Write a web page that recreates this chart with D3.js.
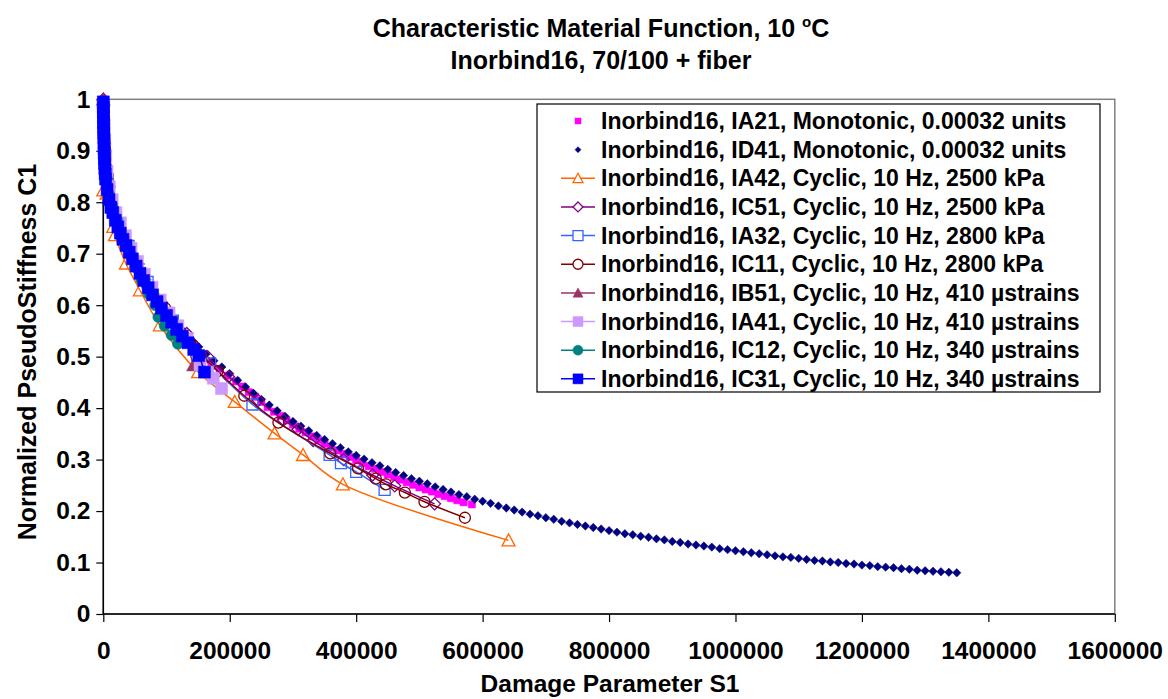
<!DOCTYPE html>
<html lang="en">
<head>
<meta charset="UTF-8">
<title>Characteristic Material Function</title>
<script src="https://d3js.org/d3.v7.min.js"></script>
<style>
  body { margin: 0; background: #fff; }
  text { font-family: Arial, "Liberation Sans", sans-serif; font-weight: bold; fill: #000; }
</style>
</head>
<body>
<svg id="chart"></svg>
<script>
// ---- data: [damage parameter S1, normalized pseudo stiffness C1] ----
const ia21 = [[0,0.98],[1500,0.935],[4000,0.88],[8000,0.83],[13000,0.80],[19000,0.775],[26000,0.75],[34000,0.728],
  [43000,0.705],[53000,0.68],[64000,0.655],[76000,0.63],[89000,0.605],[103000,0.58],[117000,0.558],[131000,0.538],
  [145000,0.52],[158000,0.503],[171000,0.489],[184000,0.476],[197000,0.463],[210000,0.452],[220000,0.442],[230000,0.431],
  [240000,0.422],[250000,0.412],[260000,0.402],[270000,0.393],[280000,0.385],[290000,0.376],[300000,0.368],[310000,0.36],
  [320000,0.353],[330000,0.345],[340000,0.338],[350000,0.331],[360000,0.324],[370000,0.318],[380000,0.311],[390000,0.305],
  [400000,0.299],[410000,0.293],[420000,0.287],[430000,0.282],[440000,0.276],[450000,0.271],[460000,0.266],[470000,0.261],
  [480000,0.256],[490000,0.251],[500000,0.246],[510000,0.242],[520000,0.238],[530000,0.233],[540000,0.229],[550000,0.225],
  [560000,0.221],[570000,0.217],[583000,0.213]];

const id41 = [[0,0.99],[700,0.96],[1500,0.94],[2500,0.92],[3500,0.9],[5000,0.875],[6500,0.855],[8500,0.835],[11000,0.815],
  [14000,0.8],[18000,0.785],[22000,0.77],[27000,0.755],[32000,0.74],[37500,0.725],[43000,0.71],[49000,0.695],[55000,0.68],
  [62000,0.665],[69000,0.65],[76000,0.635],[83000,0.62],[91000,0.605],[99000,0.59],[107000,0.578],[115000,0.566],
  [124000,0.553],[133000,0.541],[142000,0.53],[151000,0.519],[162500,0.505],[175000,0.492],[187500,0.48],[200000,0.467],
  [212500,0.454],[225000,0.441],[237500,0.429],[250000,0.417],[262500,0.406],[275000,0.395],[287500,0.384],[300000,0.374],
  [312500,0.365],[325000,0.356],[337500,0.347],[350000,0.339],[362500,0.331],[375000,0.323],[387500,0.315],[400000,0.308],
  [412500,0.301],[425000,0.294],[437500,0.288],[450000,0.281],[462500,0.275],[475000,0.269],[487500,0.263],[500000,0.258],
  [512500,0.253],[525000,0.247],[537500,0.242],[550000,0.237],[562500,0.232],[575000,0.228],[587500,0.223],[600000,0.219],
  [612500,0.215],[625000,0.21],[637500,0.206],[650000,0.202],[662500,0.198],[675000,0.194],[687500,0.191],[700000,0.187],
  [712500,0.184],[725000,0.18],[737500,0.177],[750000,0.174],[762500,0.171],[775000,0.168],[787500,0.165],[800000,0.162],
  [812500,0.159],[825000,0.156],[837500,0.154],[850000,0.151],[862500,0.149],[875000,0.146],[887500,0.144],[900000,0.141],
  [912500,0.139],[925000,0.136],[937500,0.134],[950000,0.132],[962500,0.13],[975000,0.127],[987500,0.125],[1000000,0.123],
  [1012500,0.121],[1025000,0.119],[1037500,0.117],[1050000,0.115],[1062500,0.113],[1075000,0.111],[1087500,0.11],
  [1100000,0.108],[1112500,0.106],[1125000,0.104],[1137500,0.103],[1150000,0.101],[1162500,0.1],[1175000,0.098],
  [1187500,0.097],[1200000,0.095],[1212500,0.094],[1225000,0.092],[1237500,0.091],[1250000,0.09],[1262500,0.088],
  [1275000,0.087],[1287500,0.085],[1300000,0.084],[1312500,0.083],[1325000,0.082],[1337500,0.081],[1350000,0.08]];

const ia42 = [[0,1.0],[0,0.823],[5300,0.817],[15800,0.752],[18500,0.736],[35800,0.681],[58000,0.629],[89500,0.561],
  [150000,0.47],[208000,0.412],[271000,0.351],[316000,0.309],[379000,0.252],[641000,0.143]];

const ic51 = [[0,1.0],[3000,0.9],[9000,0.83],[25000,0.76],[55000,0.68],[92000,0.605],[132000,0.545],[165000,0.5],
  [198000,0.461],[245000,0.415],[285000,0.377],[308000,0.359],[332000,0.337],[380000,0.3],[426000,0.27],[461000,0.249],
  [524000,0.214]];

const ia32 = [[0,0.985],[2500,0.91],[7000,0.845],[20000,0.77],[40000,0.715],[70000,0.645],[110000,0.57],[169000,0.487],
  [236000,0.407],[358000,0.309],[376000,0.293],[400000,0.276],[445000,0.241]];

const ic11 = [[0,0.975],[4000,0.86],[20000,0.775],[50000,0.685],[98000,0.594],[142000,0.522],[181000,0.472],[223000,0.424],
  [277000,0.372],[359000,0.312],[403000,0.283],[431000,0.263],[447000,0.252],[477000,0.236],[508000,0.218],[572000,0.187]];

const ib51 = [[0,1.0],[800,0.97],[1600,0.94],[2600,0.91],[4000,0.88],[6000,0.855],[9000,0.825],[13000,0.8],[18000,0.78],
  [25000,0.755],[33000,0.735],[42000,0.71],[52000,0.685],[63000,0.66],[75000,0.635],[88000,0.61],[102000,0.585],
  [117000,0.56],[130000,0.535],[142000,0.483]];

const ia41 = [[0,0.99],[1000,0.95],[2200,0.92],[3800,0.89],[6000,0.86],[9500,0.83],[14000,0.805],[20000,0.78],[27000,0.76],
  [35000,0.735],[44000,0.71],[54000,0.685],[65000,0.66],[77000,0.635],[90000,0.61],[104000,0.585],[118000,0.56],
  [133000,0.535],[153000,0.484],[165000,0.47],[174000,0.458],[187000,0.438]];

const ic12 = [[0,0.97],[2000,0.915],[5300,0.846],[9000,0.815],[14000,0.794],[22000,0.765],[32000,0.73],[42000,0.7],
  [50000,0.674],[60000,0.65],[72000,0.622],[82000,0.6],[87000,0.577],[97000,0.56],[108000,0.542],[118000,0.525]];

const ic31 = [[0,0.995],[100,0.985],[200,0.975],[300,0.965],[450,0.955],[600,0.945],[750,0.935],[900,0.925],[1100,0.915],
  [1300,0.905],[1500,0.895],[1800,0.885],[2100,0.875],[2500,0.865],[3000,0.855],[3600,0.845],[6000,0.825],[9000,0.805],
  [12000,0.79],[15000,0.78],[19000,0.765],[23000,0.752],[27000,0.74],[31000,0.728],[36000,0.716],[41000,0.703],
  [46000,0.69],[52000,0.676],[58000,0.662],[64000,0.648],[71000,0.634],[78000,0.62],[85000,0.607],[92000,0.594],
  [100000,0.58],[108000,0.567],[116000,0.553],[125000,0.54],[134000,0.527],[143000,0.514],[151000,0.502],[160000,0.47]];

const seriesNames = [
  "Inorbind16, IA21, Monotonic, 0.00032 units",
  "Inorbind16, ID41, Monotonic, 0.00032 units",
  "Inorbind16, IA42, Cyclic, 10 Hz, 2500 kPa",
  "Inorbind16, IC51, Cyclic, 10 Hz, 2500 kPa",
  "Inorbind16, IA32, Cyclic, 10 Hz, 2800 kPa",
  "Inorbind16, IC11, Cyclic, 10 Hz, 2800 kPa",
  "Inorbind16, IB51, Cyclic, 10 Hz, 410 \u00b5strains",
  "Inorbind16, IA41, Cyclic, 10 Hz, 410 \u00b5strains",
  "Inorbind16, IC12, Cyclic, 10 Hz, 340 \u00b5strains",
  "Inorbind16, IC31, Cyclic, 10 Hz, 340 \u00b5strains"
];
const seriesData = [ia21, id41, ia42, ic51, ia32, ic11, ib51, ia41, ic12, ic31];

const xTicks = [0, 200000, 400000, 600000, 800000, 1000000, 1200000, 1400000, 1600000];
const yTicks = [0, 0.1, 0.2, 0.3, 0.4, 0.5, 0.6, 0.7, 0.8, 0.9, 1];
const yTickLabels = ["0", "0.1", "0.2", "0.3", "0.4", "0.5", "0.6", "0.7", "0.8", "0.9", "1"];

// ---- styles ----
const styles = [
  {color: "#FF00FF", shape: "square",   r: 3.6, filled: true,  line: false},
  {color: "#000080", shape: "diamond",  r: 4.2, filled: true,  line: false},
  {color: "#FF6600", shape: "triangle", r: 6.5, filled: false, line: true},
  {color: "#800080", shape: "diamond",  r: 6,   filled: false, line: true},
  {color: "#3366FF", shape: "square",   r: 5.5, filled: false, line: true},
  {color: "#800000", shape: "circle",   r: 5.5, filled: false, line: true},
  {color: "#993366", shape: "triangle", r: 6.5, filled: true,  line: true},
  {color: "#CC99FF", shape: "square",   r: 6,   filled: true,  line: true},
  {color: "#008080", shape: "circle",   r: 5.5, filled: true,  line: true},
  {color: "#0000FF", shape: "square",   r: 6,   filled: true,  line: true}
];

const W = 1168, H = 699;
const svg = d3.select("#chart").attr("width", W).attr("height", H);

const x = d3.scaleLinear().domain([0, 1600000]).range([103.3, 1114.8]);
const y = d3.scaleLinear().domain([0, 1]).range([614, 99.3]);

function shapePath(shape, s) {
  switch (shape) {
    case "square": return `M${-s},${-s}h${2*s}v${2*s}h${-2*s}Z`;
    case "diamond": return `M0,${-s}L${s},0L0,${s}L${-s},0Z`;
    case "triangle": return `M0,${-s}L${s},${s*0.85}L${-s},${s*0.85}Z`;
    default: return `M${s},0A${s},${s} 0 1,1 ${-s},0A${s},${s} 0 1,1 ${s},0Z`;
  }
}

// plot frame (gray top/right), then black axes
svg.append("rect")
  .attr("x", x(0)).attr("y", y(1))
  .attr("width", x(1600000) - x(0)).attr("height", y(0) - y(1))
  .attr("fill", "none").attr("stroke", "#808080").attr("stroke-width", 1.5);

const xAxis = svg.append("g")
  .attr("transform", `translate(0,${y(0)})`)
  .call(d3.axisBottom(x).tickValues(xTicks).tickSize(8).tickPadding(20).tickFormat(d3.format("d")));
const yAxis = svg.append("g")
  .attr("transform", `translate(${x(0)},0)`)
  .call(d3.axisLeft(y).tickValues(yTicks).tickSize(7).tickPadding(6).tickFormat((d, i) => yTickLabels[i]));

[xAxis, yAxis].forEach(g => {
  g.select(".domain").attr("stroke", "#000").attr("stroke-width", 1.5);
  g.selectAll(".tick line").attr("stroke", "#000").attr("stroke-width", 1.2);
  g.selectAll(".tick text").style("font-size", "24.5px").attr("fill", "#000");
});
yAxis.select(".domain").attr("d", `M0,${y(1)}V${y(0)}`);
xAxis.select(".domain").attr("d", `M${x(0)},0H${x(1600000)}`);

// series
const line = d3.line().x(d => x(d[0])).y(d => y(d[1])).curve(d3.curveCatmullRom.alpha(0.5));
const plot = svg.append("g");
seriesData.forEach((data, i) => {
  const st = styles[i];
  const g = plot.append("g");
  if (st.line) {
    g.append("path").datum(data).attr("d", line)
      .attr("fill", "none").attr("stroke", st.color).attr("stroke-width", 1.5);
  }
  g.selectAll("path.m").data(data).join("path").attr("class", "m")
    .attr("transform", d => `translate(${x(d[0])},${y(d[1])})`)
    .attr("d", shapePath(st.shape, st.r))
    .attr("fill", st.filled ? st.color : "none")
    .attr("stroke", st.color).attr("stroke-width", st.filled ? 0.5 : 1.3);
});

// legend
const legend = svg.append("g");
legend.append("rect").attr("x", 537).attr("y", 104).attr("width", 563).attr("height", 288)
  .attr("fill", "#fff").attr("stroke", "#000").attr("stroke-width", 1.2);
seriesNames.forEach((name, i) => {
  const st = styles[i];
  const cy = 121 + i * 28.65;
  const row = legend.append("g");
  if (st.line) {
    row.append("line").attr("x1", 561).attr("x2", 595).attr("y1", cy).attr("y2", cy)
      .attr("stroke", st.color).attr("stroke-width", 1.5);
  }
  row.append("path").attr("transform", `translate(578,${cy})`)
    .attr("d", shapePath(st.shape, st.line ? 5 : 3))
    .attr("fill", st.filled ? st.color : "#fff")
    .attr("stroke", st.color).attr("stroke-width", st.filled ? 0.5 : 1.3);
  row.append("text").attr("x", 601).attr("y", cy).attr("dy", "0.35em")
    .style("font-size", "23px").text(name);
});

// titles
const title = svg.append("text").attr("x", 601).attr("y", 37).attr("text-anchor", "middle").style("font-size", "25px");
title.append("tspan").text("Characteristic Material Function, 10 ");
title.append("tspan").attr("dy", -10).style("font-size", "15px").text("o");
title.append("tspan").attr("dy", 10).text("C");
svg.append("text").attr("x", 601).attr("y", 69).attr("text-anchor", "middle").style("font-size", "25px")
  .text("Inorbind16, 70/100 + fiber");

svg.append("text").attr("x", 610).attr("y", 692).attr("text-anchor", "middle").style("font-size", "24.5px")
  .text("Damage Parameter S1");
svg.append("text").attr("transform", "translate(36,352) rotate(-90)").attr("text-anchor", "middle")
  .style("font-size", "25px").text("Normalized PseudoStiffness C1");
</script>
</body>
</html>
